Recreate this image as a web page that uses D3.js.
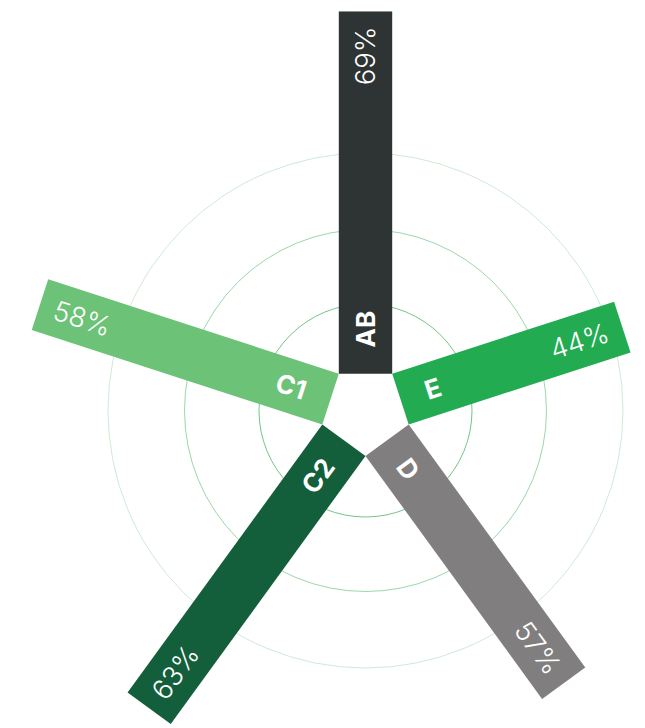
<!DOCTYPE html>
<html>
<head>
<meta charset="utf-8">
<script src="https://cdn.jsdelivr.net/npm/d3@7"></script>
<style>
  html, body { margin: 0; padding: 0; background: #ffffff; }
  svg { display: block; }
</style>
</head>
<body>
<script>
// Category shares shown as spokes of a radial bar chart
const categories = ["AB", "E", "D", "C2", "C1"];
const values = [69, 44, 57, 63, 58];
const colors = ["#2e3434", "#23ab52", "#807e7f", "#135f3b", "#6cc277"];

const width = 645, height = 728;
const cx = 365.5, cy = 410.5;
const halfBar = 26.7;
// inner edges of the five spokes meet to form a pentagon
const inner = halfBar / Math.tan(Math.PI / 5);

const ringRadii = [106.5, 181, 257.5];
const ringOpacity = [0.85, 0.6, 0.3];

const svg = d3.select("body").append("svg")
  .attr("width", width)
  .attr("height", height);

const angle = d3.scaleBand().domain(categories).range([0, 360]);
const radius = d3.scaleLinear().domain([0, 100]).range([43, 559]);

// guide rings
svg.append("g")
  .selectAll("circle")
  .data(ringRadii)
  .join("circle")
  .attr("cx", cx)
  .attr("cy", cy)
  .attr("r", d => d)
  .attr("fill", "none")
  .attr("stroke", "#5cbb6e")
  .attr("stroke-width", 1)
  .attr("stroke-opacity", (d, i) => ringOpacity[i]);

const rows = categories.map((c, i) => ({ name: c, value: values[i], color: colors[i] }));

const spoke = svg.append("g")
  .selectAll("g")
  .data(rows)
  .join("g")
  .attr("transform", d => `translate(${cx},${cy}) rotate(${angle(d.name) - 90})`);

spoke.append("rect")
  .attr("x", inner)
  .attr("y", -halfBar)
  .attr("width", d => radius(d.value) - inner)
  .attr("height", halfBar * 2)
  .attr("fill", d => d.color);

const flipped = d => {
  const a = angle(d.name);
  return a > 180 && a < 360;
};

const namePos = 63;
const valuePad = 15;

spoke.append("text")
  .attr("x", namePos)
  .attr("y", 0)
  .attr("dy", "0.36em")
  .attr("transform", d => flipped(d) ? `rotate(180,${namePos},0)` : null)
  .attr("text-anchor", d => flipped(d) ? "end" : "start")
  .attr("fill", "#ffffff")
  .style("font-family", "Inter, 'Liberation Sans', sans-serif")
  .style("font-weight", 700)
  .style("font-size", "26px")
  .text(d => d.name);

spoke.append("text")
  .attr("x", d => radius(d.value) - valuePad)
  .attr("y", 0)
  .attr("dy", "0.36em")
  .attr("transform", d => flipped(d) ? `rotate(180,${radius(d.value) - valuePad},0)` : null)
  .attr("text-anchor", d => flipped(d) ? "start" : "end")
  .attr("fill", "#ffffff")
  .style("font-family", "Inter, 'Liberation Sans', sans-serif")
  .style("font-weight", 300)
  .style("font-size", "27.5px")
  .text(d => d.value + "%");
</script>
</body>
</html>
